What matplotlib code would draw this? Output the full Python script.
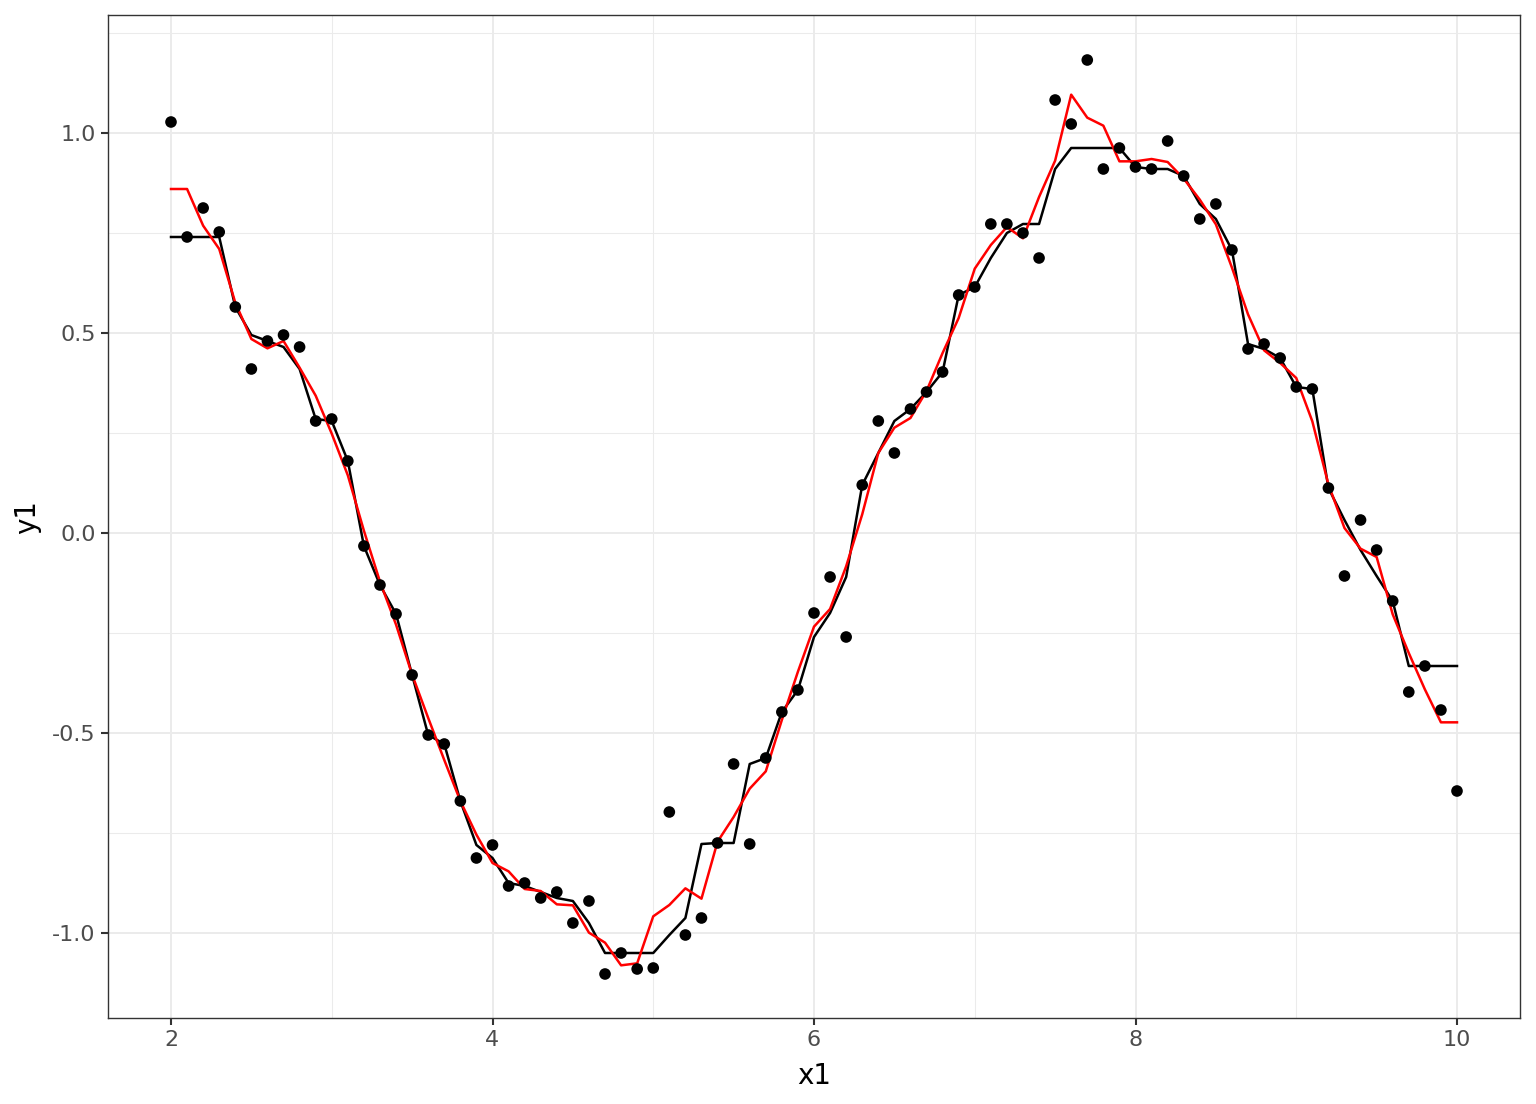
import numpy as np
import pandas as pd
import matplotlib
matplotlib.use("Agg")
import matplotlib.pyplot as plt
from matplotlib.ticker import FixedLocator

plt.rcParams['font.family'] = ['DejaVu Sans']
plt.rcParams['axes.unicode_minus'] = False

x1 = [2.0, 2.1, 2.2, 2.3, 2.4, 2.5, 2.6, 2.7, 2.8, 2.9,
      3.0, 3.1, 3.2, 3.3, 3.4, 3.5, 3.6, 3.7, 3.8, 3.9,
      4.0, 4.1, 4.2, 4.3, 4.4, 4.5, 4.6, 4.7, 4.8, 4.9,
      5.0, 5.1, 5.2, 5.3, 5.4, 5.5, 5.6, 5.7, 5.8, 5.9,
      6.0, 6.1, 6.2, 6.3, 6.4, 6.5, 6.6, 6.7, 6.8, 6.9,
      7.0, 7.1, 7.2, 7.3, 7.4, 7.5, 7.6, 7.7, 7.8, 7.9,
      8.0, 8.1, 8.2, 8.3, 8.4, 8.5, 8.6, 8.7, 8.8, 8.9,
      9.0, 9.1, 9.2, 9.3, 9.4, 9.5, 9.6, 9.7, 9.8, 9.9,
      10.0]
y1 = [1.0275, 0.74, 0.8125, 0.7525, 0.565, 0.41, 0.48, 0.495, 0.465, 0.28,
      0.285, 0.18, -0.0325, -0.13, -0.2025, -0.355, -0.505, -0.5275, -0.67, -0.8125,
      -0.78, -0.8825, -0.875, -0.9125, -0.8975, -0.975, -0.92, -1.1025, -1.05, -1.09,
      -1.0875, -0.6975, -1.005, -0.9625, -0.775, -0.5775, -0.7775, -0.5625, -0.4475, -0.3925,
      -0.2, -0.11, -0.26, 0.12, 0.28, 0.2, 0.31, 0.3525, 0.4025, 0.595,
      0.615, 0.7725, 0.7725, 0.75, 0.6875, 1.0825, 1.0225, 1.1825, 0.91, 0.9625,
      0.915, 0.91, 0.98, 0.8925, 0.785, 0.8225, 0.7075, 0.46, 0.4725, 0.4375,
      0.365, 0.36, 0.1125, -0.1075, 0.0325, -0.0425, -0.17, -0.3975, -0.3325, -0.4425,
      -0.645]

x_ticks = [2, 4, 6, 8, 10]
x_tick_labels = ["2", "4", "6", "8", "10"]
y_ticks = [-1.0, -0.5, 0.0, 0.5, 1.0]
y_tick_labels = ["-1.0", "-0.5", "0.0", "0.5", "1.0"]

# running median (window 7) and running mean (window 3), constant end rule
s = pd.Series(y1)
run_med = s.rolling(7, center=True).median().bfill().ffill()
run_mean = s.rolling(3, center=True).mean().bfill().ffill()

W, H = 1536, 1104
fig = plt.figure(figsize=(W / 100, H / 100), dpi=100)
ax = fig.add_axes([108 / W, 1 - 1018 / H, (1520 - 108) / W, (1018 - 15) / H])

ax.set_xlim(2 - 63 / 160.75, 10 + 63 / 160.75)
ax.set_ylim(-1.2125, 1.295)

ax.xaxis.set_major_locator(FixedLocator(x_ticks))
ax.set_xticklabels(x_tick_labels)
ax.yaxis.set_major_locator(FixedLocator(y_ticks))
ax.set_yticklabels(y_tick_labels)
ax.xaxis.set_minor_locator(FixedLocator([3, 5, 7, 9]))
ax.yaxis.set_minor_locator(FixedLocator([-0.75, -0.25, 0.25, 0.75, 1.25]))

ax.grid(which='major', color='#EBEBEB', linewidth=1.4)
ax.grid(which='minor', color='#EBEBEB', linewidth=0.75)
ax.set_axisbelow(True)

for sp in ax.spines.values():
    sp.set_color('#333333')
    sp.set_linewidth(1.0)

ax.tick_params(which='major', length=5, width=1.5, color='#333333',
               labelsize=16, labelcolor='#4D4D4D', pad=4)
ax.tick_params(which='minor', length=0)

ax.plot(x1, run_med, color='black', linewidth=1.8, zorder=3)
ax.plot(x1, run_mean, color='red', linewidth=1.8, zorder=4)
ax.scatter(x1, y1, s=70, color='black', edgecolors='none', zorder=5)

ax.set_xlabel("x1", fontsize=20, labelpad=8)
ax.set_ylabel("y1", fontsize=20, labelpad=8)

fig.savefig("out.png", dpi=100, facecolor='white')
